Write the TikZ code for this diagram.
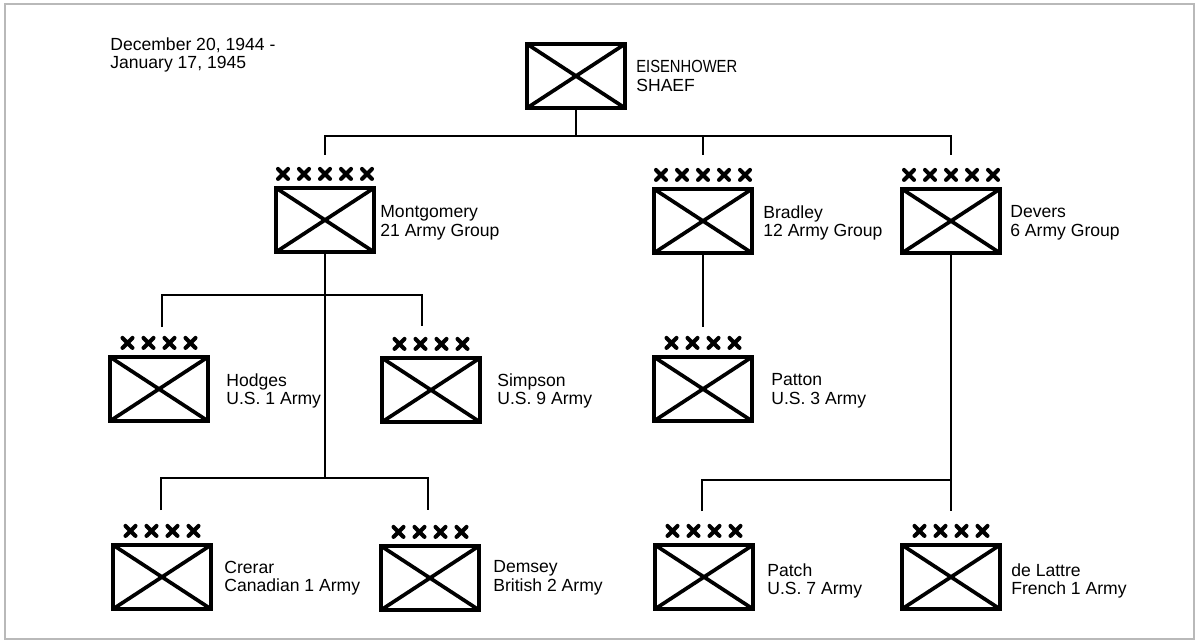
\documentclass[tikz,border=0pt]{standalone}
\usepackage{fontspec}
\setmainfont{Liberation Sans}
\usepackage{graphicx}
\usetikzlibrary{calc,positioning}

\tikzset{
  unit/.style={draw,line width=2.4pt,minimum width=1.96cm,minimum height=1.28cm,
    inner sep=0pt,
    path picture={\draw[line width=2.1pt] (path picture bounding box.north west)--(path picture bounding box.south east)
      (path picture bounding box.south west)--(path picture bounding box.north east);}},
  unitlabel/.style={anchor=west,align=left,inner sep=0pt,font=\fontsize{10}{10.6}\selectfont},
  link/.style={line width=1.1pt},
  xmark/.pic={\draw[line width=2.3pt,line cap=round] (-5,-5)--(5,5) (-5,5)--(5,-5);}
}

\begin{document}
\begin{tikzpicture}[x=0.02cm,y=-0.02cm]
\useasboundingbox (0,0) rectangle (1198,642);
\draw[gray!55,line width=1.2pt] (5,4) rectangle (1194,639);

\node[unitlabel] (date) at (110,55) {December 20, 1944 -\\January 17, 1945};

% headquarters
\node[unit] (shaef) at (576,76) {};
\node[unit] (mont) at (325,220) {};
\node[unit] (brad) at (703,221) {};
\node[unit] (devers) at (951,221) {};
\node[unit] (hodges) at (159,389) {};
\node[unit] (simpson) at (431,390) {};
\node[unit] (patton) at (703,389) {};
\node[unit] (crerar) at (162,577) {};
\node[unit] (demsey) at (430,578) {};
\node[unit] (patch) at (704,577) {};
\node[unit] (delattre) at (951,577) {};

\node[unitlabel] (shaef-l) at (636,76) {\scalebox{0.84}[1]{EISENHOWER}\\SHAEF};
\node[unitlabel] (mont-l) at (380,223) {Montgomery\\21 Army Group};
\node[unitlabel] (brad-l) at (763,223) {Bradley\\12 Army Group};
\node[unitlabel] (devers-l) at (1010,223) {Devers\\6 Army Group};
\node[unitlabel] (hodges-l) at (226,391) {Hodges\\U.S. 1 Army};
\node[unitlabel] (simpson-l) at (497,391) {Simpson\\U.S. 9 Army};
\node[unitlabel] (patton-l) at (771,391) {Patton\\U.S. 3 Army};
\node[unitlabel] (crerar-l) at (224,578) {Crerar\\Canadian 1 Army};
\node[unitlabel] (demsey-l) at (493,578) {Demsey\\British 2 Army};
\node[unitlabel] (patch-l) at (767,581) {Patch\\U.S. 7 Army};
\node[unitlabel] (delattre-l) at (1011,581) {de Lattre\\French 1 Army};

% echelon marks
\foreach \n/\k in {mont/5,brad/5,devers/5,hodges/4,simpson/4,patton/4,crerar/4,demsey/4,patch/4,delattre/4}
  \foreach \i in {1,...,\k}
    \pic at ($(\n.north)+({(\i-(\k+1)/2)*21},-12)$) {xmark};

% junctions and line ends
\coordinate (j0) at (576,136);
\coordinate (j1) at (325,295);
\coordinate (j2) at (325,478);
\coordinate (j3) at (951,480);
\coordinate (mont-in) at (325,155);
\coordinate (brad-in) at (703,155);
\coordinate (devers-in) at (951,155);
\coordinate (hodges-in) at (162,327);
\coordinate (simpson-in) at (422,326);
\coordinate (patton-in) at (703,327);
\coordinate (crerar-in) at (161,510);
\coordinate (demsey-in) at (428,510);
\coordinate (patch-in) at (702,511);
\coordinate (delattre-in) at (951,511);

\draw[link] (shaef.south)--(j0);
\draw[link] (mont-in) |- (j0) -| (devers-in);
\draw[link] (brad-in)--(brad-in |- j0);
\draw[link] (mont.south)--(j2);
\draw[link] (hodges-in) |- (j1) -| (simpson-in);
\draw[link] (crerar-in) |- (j2) -| (demsey-in);
\draw[link] (brad.south)--(patton-in);
\draw[link] (devers.south)--(delattre-in);
\draw[link] (patch-in) |- (j3);
\end{tikzpicture}
\end{document}
